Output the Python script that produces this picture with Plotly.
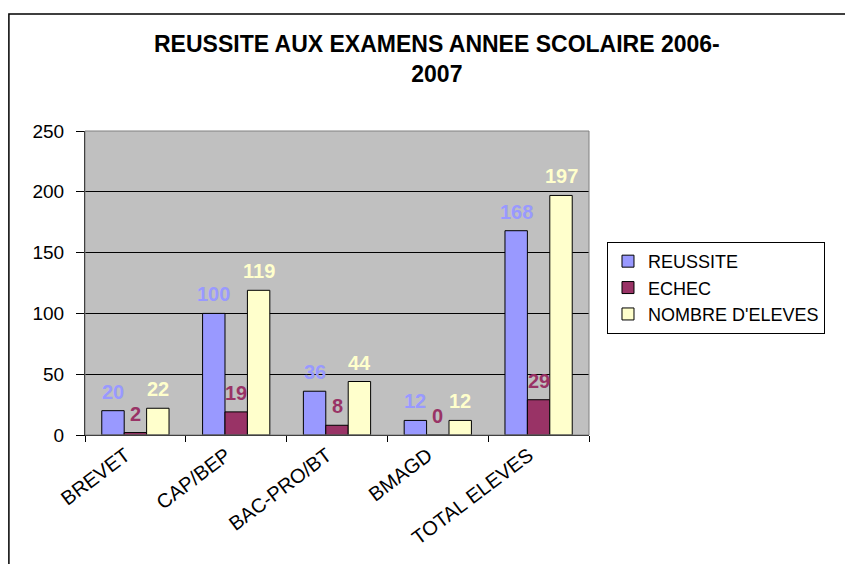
import plotly.graph_objects as go

categories = ["BREVET", "CAP/BEP", "BAC-PRO/BT", "BMAGD", "TOTAL ELEVES"]
reussite = [20, 100, 36, 12, 168]
echec = [2, 19, 8, 0, 29]
nombre_eleves = [22, 119, 44, 12, 197]
series_names = ["REUSSITE", "ECHEC", "NOMBRE D'ELEVES"]
y_ticks = [0, 50, 100, 150, 200, 250]

colors = ["#9999FF", "#993366", "#FFFFCC"]
series = [reussite, echec, nombre_eleves]
FONT = "Liberation Sans, Arial, sans-serif"

fig = go.Figure()
for name, vals, col in zip(series_names, series, colors):
    fig.add_trace(go.Bar(
        x=categories, y=vals, name=name, legendgroup=name,
        marker=dict(color=col, line=dict(color="black", width=1)),
    ))

# data labels above each bar
offsets = [-22.4, 0, 22.4]
for vals, col, dx in zip(series, colors, offsets):
    for c, v in zip(categories, vals):
        fig.add_annotation(
            x=c, y=v, xref="x", yref="y", text=f"<b>{v}</b>", showarrow=False,
            xshift=dx, yshift=19, yanchor="middle", xanchor="center",
            font=dict(family=FONT, size=20, color=col),
        )

# title
fig.add_annotation(
    xref="paper", yref="paper", x=0.698, y=1.2352, xanchor="center", yanchor="middle",
    text="<b>REUSSITE AUX EXAMENS ANNEE SCOLAIRE 2006-<br>2007</b>", showarrow=False,
    font=dict(family=FONT, size=23, color="black"),
)

# outer chart frame
fig.add_shape(type="rect", xref="paper", yref="paper",
              x0=-0.1510, x1=2.0, y0=-1.0, y1=1.385,
              line=dict(color="black", width=1.5), fillcolor="rgba(0,0,0,0)", layer="below")
# plot area border (gray)
fig.add_shape(type="rect", xref="paper", yref="paper", x0=0, x1=1, y0=0, y1=1,
              line=dict(color="#808080", width=1), fillcolor="rgba(0,0,0,0)", layer="above")

fig.update_layout(
    width=845, height=556,
    margin=dict(l=77, r=264, t=123, b=129),
    paper_bgcolor="white", plot_bgcolor="#C0C0C0",
    barmode="group", bargap=0.333, bargroupgap=0,
    font=dict(family=FONT, size=19, color="black"),
    showlegend=True,
    legend=dict(x=1.0357, y=0.635, xanchor="left", yanchor="top",
                bordercolor="black", borderwidth=1, bgcolor="white",
                font=dict(family=FONT, size=18, color="black"),
                itemwidth=30, traceorder="grouped", tracegroupgap=0),
)
fig.update_xaxes(
    type="category", tickangle=-37, tickson="boundaries",
    ticks="outside", ticklen=6, tickcolor="black", ticklabelshift=-10,
    showline=True, linecolor="black", linewidth=1,
    showgrid=False, tickfont=dict(family=FONT, size=20, color="black"),
)
fig.update_yaxes(
    range=[0, 250], tickvals=y_ticks, ticktext=[str(t) for t in y_ticks],
    ticks="outside", ticklen=8, tickcolor="black", ticklabelstandoff=8,
    showline=True, linecolor="black", linewidth=1,
    showgrid=True, gridcolor="black", gridwidth=1, zeroline=False,
    tickfont=dict(family=FONT, size=19, color="black"),
)

fig.write_html("out.html")
